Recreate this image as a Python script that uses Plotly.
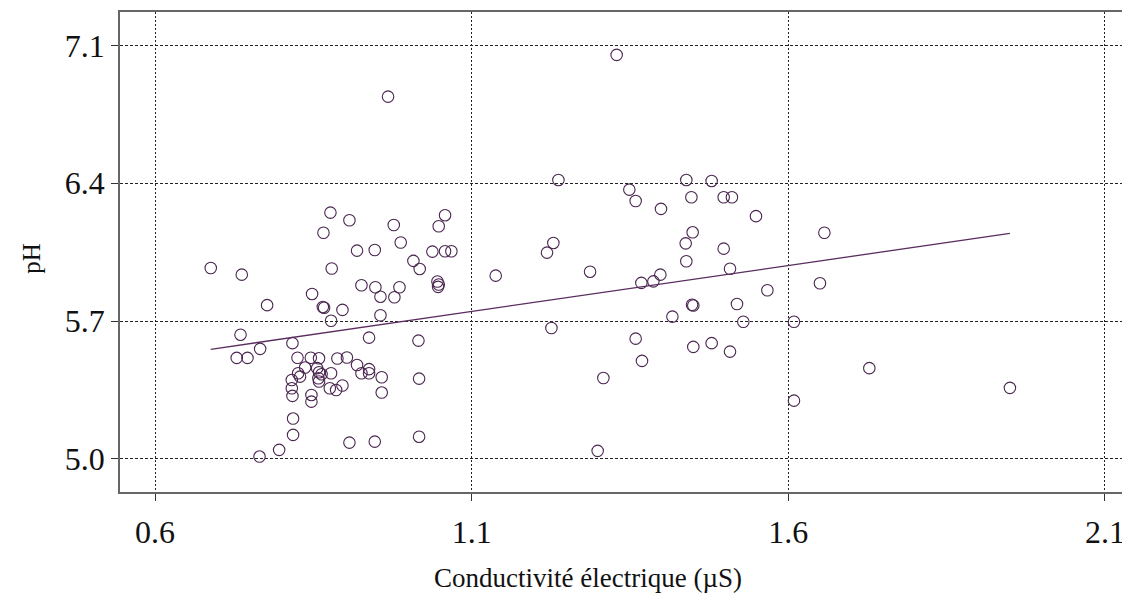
import plotly.graph_objects as go

# Conductivité électrique (µS)
cond = [
    0.688, 0.737, 0.877, 0.866, 0.879, 0.848, 0.865, 0.867, 0.777, 0.878,
    0.896, 0.735, 0.766, 0.817, 0.729, 0.746, 0.825, 0.846, 0.859, 0.888,
    0.903, 0.837, 0.826, 0.829, 0.856, 0.859, 0.863, 0.858, 0.859, 0.878,
    0.816, 0.816, 0.817, 0.847, 0.847, 0.876, 0.886, 0.896, 0.818, 0.818,
    0.796, 0.765,
    0.907, 0.977, 1.058, 1.048, 0.919, 0.947, 0.988, 1.038, 1.058, 1.068,
    1.008, 1.018, 1.046, 1.048, 1.047, 0.926, 0.948, 0.986, 0.956, 0.978,
    0.956, 0.938, 1.016, 0.919, 0.926, 0.938, 0.938, 0.958, 1.017, 0.958,
    0.907, 0.947, 1.017, 0.968,
    1.237, 1.349, 1.359, 1.399, 1.439, 1.479, 1.447, 1.498, 1.511, 1.549,
    1.449, 1.438, 1.498, 1.439, 1.508, 1.229, 1.219, 1.138, 1.287, 1.368,
    1.387, 1.398, 1.567, 1.448, 1.450, 1.519, 1.417, 1.529, 1.226, 1.359,
    1.369, 1.450, 1.479, 1.508, 1.308, 1.299, 1.657, 1.650, 1.609, 1.728,
    1.950, 1.609, 1.329,
]

# pH
ph = [
    5.970, 5.936, 6.251, 6.149, 5.967, 5.838, 5.772, 5.768, 5.781, 5.702,
    5.757, 5.631, 5.559, 5.588, 5.513, 5.513, 5.514, 5.514, 5.511, 5.510,
    5.515, 5.464, 5.435, 5.418, 5.461, 5.440, 5.430, 5.410, 5.393, 5.435,
    5.401, 5.359, 5.320, 5.325, 5.291, 5.359, 5.350, 5.373, 5.205, 5.122,
    5.046, 5.012,
    6.212, 6.188, 6.238, 6.182, 6.058, 6.061, 6.099, 6.053, 6.055, 6.055,
    6.006, 5.965, 5.901, 5.886, 5.874, 5.882, 5.872, 5.872, 5.824, 5.821,
    5.730, 5.616, 5.601, 5.477, 5.435, 5.456, 5.435, 5.415, 5.408, 5.337,
    5.083, 5.088, 5.113, 6.840,
    6.417, 6.368, 6.310, 6.270, 6.417, 6.412, 6.329, 6.329, 6.329, 6.233,
    6.151, 6.095, 6.068, 6.004, 5.966, 6.097, 6.048, 5.931, 5.951, 5.894,
    5.902, 5.936, 5.857, 5.783, 5.779, 5.787, 5.723, 5.697, 5.665, 5.611,
    5.498, 5.569, 5.588, 5.545, 5.411, 5.041, 6.149, 5.892, 5.697, 5.461,
    5.361, 5.296, 7.052,
]

# Regression line coefficients
fit_intercept = 5.236
fit_slope = 0.4664

x_ticks = [0.6, 1.1, 1.6, 2.1]
y_ticks = [5.0, 5.7, 6.4, 7.1]
x_tick_text = ["0.6", "1.1", "1.6", "2.1"]
y_tick_text = ["5.0", "5.7", "6.4", "7.1"]
x_title = "Conductivité électrique (µS)"
y_title = "pH"

line_x = [min(cond), max(cond)]
line_y = [fit_intercept + fit_slope * v for v in line_x]

color = "#4a2650"
font_family = "Liberation Serif, Times New Roman, serif"
text_color = "#111111"

fig = go.Figure()
fig.add_trace(go.Scatter(
    x=cond, y=ph, mode="markers",
    marker=dict(symbol="circle-open", size=11.5, color=color, line=dict(width=1.1, color=color)),
    showlegend=False, hoverinfo="x+y",
))
fig.add_trace(go.Scatter(
    x=line_x, y=line_y, mode="lines",
    line=dict(color="#5a2d5e", width=1.3),
    showlegend=False,
))

# The page body adds an 8px margin, so the figure is sized/offset to compensate.
fig.update_layout(
    width=1122, height=585,
    margin=dict(l=112, r=8, t=4, b=101),
    paper_bgcolor="white", plot_bgcolor="white",
    font=dict(family=font_family, color=text_color),
    xaxis=dict(
        range=[0.5447, 2.127],
        automargin=False,
        tickvals=x_ticks, ticktext=x_tick_text,
        tickfont=dict(size=32, family=font_family, color=text_color),
        ticks="outside", ticklen=7, tickcolor="#333333", tickwidth=1,
        ticklabelstandoff=4,
        showgrid=True, gridcolor="#222222", gridwidth=1, griddash="2px,2px",
        showline=True, linecolor="#666666", linewidth=1.5, mirror=True,
        zeroline=False,
    ),
    yaxis=dict(
        range=[4.832, 7.270],
        automargin=False,
        tickvals=y_ticks, ticktext=y_tick_text,
        tickfont=dict(size=32, family=font_family, color=text_color),
        ticks="outside", ticklen=7, tickcolor="#333333", tickwidth=1,
        showgrid=True, gridcolor="#222222", gridwidth=1, griddash="3px,2px",
        showline=True, linecolor="#666666", linewidth=1.5, mirror=True,
        zeroline=False,
    ),
    annotations=[
        dict(text=x_title, xref="paper", yref="paper", x=0.467, y=-0.179,
             xanchor="center", yanchor="middle", showarrow=False,
             font=dict(size=27, family=font_family, color=text_color)),
        dict(text=y_title, xref="paper", yref="paper", x=-0.088, y=0.4875,
             xanchor="center", yanchor="middle", showarrow=False, textangle=-90,
             font=dict(size=25, family=font_family, color=text_color)),
    ],
)

fig.write_html("out.html")
